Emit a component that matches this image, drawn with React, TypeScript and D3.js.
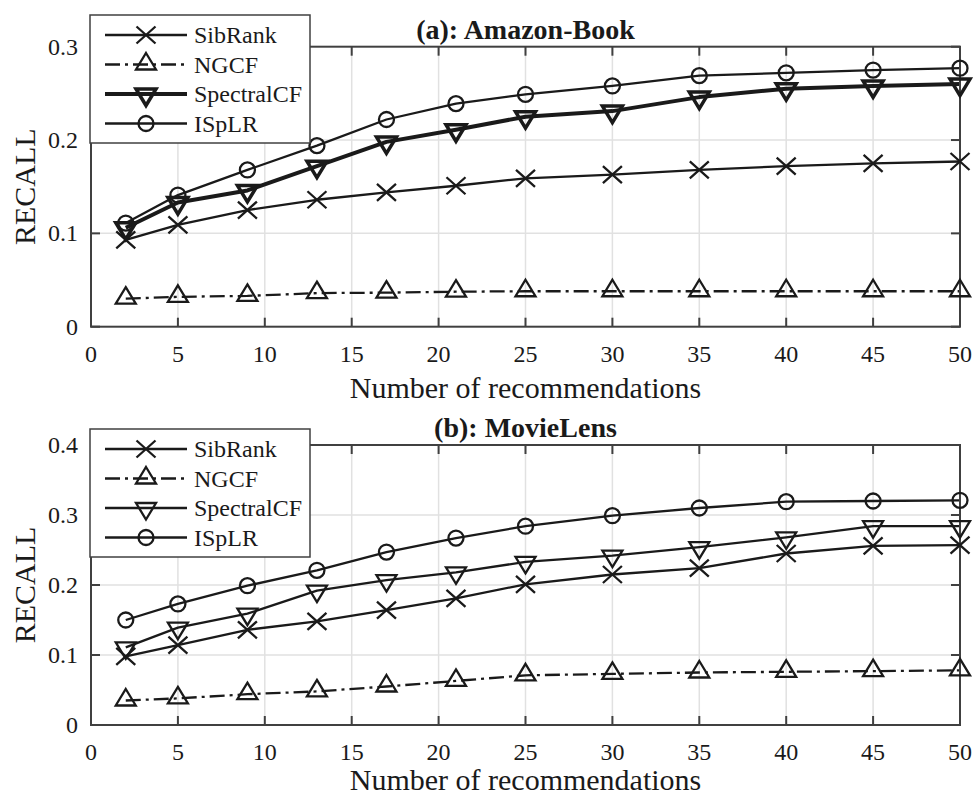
import * as d3 from 'd3';

// number of recommendations (x positions of the points)
const X_VALUES = [2, 5, 9, 13, 17, 21, 25, 30, 35, 40, 45, 50];
const X_TICKS = [0, 5, 10, 15, 20, 25, 30, 35, 40, 45, 50];

// (a) Amazon-Book
const AMAZON_SIBRANK = [0.093, 0.109, 0.125, 0.136, 0.144, 0.151, 0.159, 0.163, 0.168, 0.172, 0.175, 0.177];
const AMAZON_NGCF = [0.03, 0.032, 0.033, 0.036, 0.0365, 0.0375, 0.038, 0.038, 0.038, 0.038, 0.038, 0.038];
const AMAZON_SPECTRAL = [0.106, 0.133, 0.146, 0.172, 0.198, 0.211, 0.225, 0.231, 0.246, 0.255, 0.258, 0.26];
const AMAZON_ISPLR = [0.111, 0.141, 0.168, 0.194, 0.222, 0.239, 0.249, 0.258, 0.269, 0.272, 0.275, 0.277];
const AMAZON_Y_TICKS = [0, 0.1, 0.2, 0.3];

// (b) MovieLens
const MOVIE_SIBRANK = [0.098, 0.114, 0.136, 0.148, 0.164, 0.181, 0.201, 0.215, 0.224, 0.245, 0.256, 0.257];
const MOVIE_NGCF = [0.035, 0.038, 0.044, 0.048, 0.055, 0.063, 0.071, 0.073, 0.075, 0.076, 0.077, 0.078];
const MOVIE_SPECTRAL = [0.111, 0.139, 0.159, 0.192, 0.207, 0.218, 0.233, 0.242, 0.254, 0.268, 0.284, 0.284];
const MOVIE_ISPLR = [0.15, 0.173, 0.199, 0.221, 0.247, 0.267, 0.284, 0.299, 0.31, 0.319, 0.32, 0.321];
const MOVIE_Y_TICKS = [0, 0.1, 0.2, 0.3, 0.4];

const SERIES_NAMES = ['SibRank', 'NGCF', 'SpectralCF', 'ISpLR'];

const FONT = '"Liberation Serif", "Times New Roman", serif';
const INK = '#1a1a1a';
const AXIS = '#404040';
const GRID = '#e1e1e1';

type Marker = 'cross' | 'up' | 'down' | 'circle';

interface SeriesDef {
  name: string;
  values: number[];
  marker: Marker;
  dash?: string;
  width: number;
  markerWidth: number;
}

function markerPath(m: Marker) {
  // marker outline in local coords, data point at (0,0)
  if (m === 'cross') return 'M-9.5,-8.5L9.5,8.5M-9.5,8.5L9.5,-8.5';
  if (m === 'up') return 'M0,-11.5L10,5L-10,5Z';
  if (m === 'down') return 'M0,11.5L10,-5L-10,-5Z';
  return '';
}

function MarkerShape({ m, x, y, w }: { m: Marker; x: number; y: number; w: number }) {
  if (m === 'circle') {
    return <circle cx={x} cy={y} r={7.5} fill="none" stroke={INK} strokeWidth={w} />;
  }
  return (
    <path
      d={markerPath(m)}
      transform={'translate(' + x + ',' + y + ')'}
      fill="none"
      stroke={INK}
      strokeWidth={w}
      strokeLinejoin="miter"
    />
  );
}

interface PanelProps {
  title: string;
  top: number;
  bottom: number;
  yMax: number;
  yTicks: number[];
  series: SeriesDef[];
  legendTop: number;
  xLabelOffset: number;
}

function Panel({ title, top, bottom, yMax, yTicks, series, legendTop, xLabelOffset }: PanelProps) {
  const left = 91;
  const right = 960;
  const x = d3.scaleLinear().domain([0, 50]).range([left, right]);
  const y = d3.scaleLinear().domain([0, yMax]).range([bottom, top]);
  const tick = 9;

  const line = d3
    .line<number>()
    .x((_, i) => x(X_VALUES[i]))
    .y((d) => y(d));

  const legendLeft = 90;
  const legendW = 220;
  const legendH = 128;
  const rowGap = 29.5;

  return (
    <g>
      {/* grid */}
      {X_TICKS.slice(1, -1).map((t) => (
        <line key={'gx' + t} x1={x(t)} x2={x(t)} y1={top} y2={bottom} stroke={GRID} strokeWidth={1.5} />
      ))}
      {yTicks.slice(1, -1).map((t) => (
        <line key={'gy' + t} x1={left} x2={right} y1={y(t)} y2={y(t)} stroke={GRID} strokeWidth={1.5} />
      ))}

      {/* series */}
      {series.map((s) => (
        <path
          key={s.name}
          d={line(s.values) || ''}
          fill="none"
          stroke={INK}
          strokeWidth={s.width}
          strokeDasharray={s.dash}
          strokeLinejoin="round"
        />
      ))}

      {/* axis box with inward ticks */}
      <rect x={left} y={top} width={right - left} height={bottom - top} fill="none" stroke={AXIS} strokeWidth={2} />
      {X_TICKS.map((t) => (
        <g key={'tx' + t}>
          <line x1={x(t)} x2={x(t)} y1={bottom} y2={bottom - tick} stroke={AXIS} strokeWidth={2} />
          <line x1={x(t)} x2={x(t)} y1={top} y2={top + tick} stroke={AXIS} strokeWidth={2} />
          <text x={x(t)} y={bottom + 35} textAnchor="middle" fontSize={24} fontFamily={FONT} fill={INK}>
            {t}
          </text>
        </g>
      ))}
      {yTicks.map((t) => (
        <g key={'ty' + t}>
          <line x1={left} x2={left + tick} y1={y(t)} y2={y(t)} stroke={AXIS} strokeWidth={2} />
          <line x1={right} x2={right - tick} y1={y(t)} y2={y(t)} stroke={AXIS} strokeWidth={2} />
          <text x={78} y={y(t)} textAnchor="end" dominantBaseline="central" fontSize={24} fontFamily={FONT} fill={INK}>
            {t === 0 ? '0' : d3.format('.1f')(t)}
          </text>
        </g>
      ))}

      {/* markers */}
      {series.map((s) =>
        s.values.map((v, i) => (
          <MarkerShape key={s.name + i} m={s.marker} x={x(X_VALUES[i])} y={y(v)} w={s.markerWidth} />
        ))
      )}

      {/* labels */}
      <text x={(left + right) / 2} y={top - 8} textAnchor="middle" fontSize={28} fontWeight="bold" fontFamily={FONT} fill={INK}>
        {title}
      </text>
      <text x={(left + right) / 2} y={bottom + xLabelOffset} textAnchor="middle" fontSize={30} fontFamily={FONT} fill={INK}>
        Number of recommendations
      </text>
      <text
        transform={'translate(35,' + (top + bottom) / 2 + ') rotate(-90)'}
        textAnchor="middle"
        fontSize={30}
        fontFamily={FONT}
        fill={INK}
      >
        RECALL
      </text>

      {/* legend */}
      <rect x={legendLeft} y={legendTop} width={legendW} height={legendH} fill="#fff" stroke={AXIS} strokeWidth={1.5} />
      {series.map((s, i) => {
        const cy = legendTop + 20 + i * rowGap;
        return (
          <g key={'lg' + s.name}>
            <line x1={105} x2={187} y1={cy} y2={cy} stroke={INK} strokeWidth={s.width} strokeDasharray={s.dash} />
            <MarkerShape m={s.marker} x={146} y={cy} w={s.markerWidth} />
            <text x={194} y={cy} dominantBaseline="central" fontSize={24} fontFamily={FONT} fill={INK}>
              {s.name}
            </text>
          </g>
        );
      })}
    </g>
  );
}

function makeSeries(values: number[][], thickSpectral: boolean): SeriesDef[] {
  const markers: Marker[] = ['cross', 'up', 'down', 'circle'];
  return SERIES_NAMES.map((name, i) => ({
    name,
    values: values[i],
    marker: markers[i],
    dash: i === 1 ? '15,5,3,5' : undefined,
    width: i === 2 && thickSpectral ? 4 : 2.3,
    markerWidth: i === 2 && thickSpectral ? 3.5 : 2.3,
  }));
}

export default function App() {
  const amazon = makeSeries([AMAZON_SIBRANK, AMAZON_NGCF, AMAZON_SPECTRAL, AMAZON_ISPLR], true);
  const movie = makeSeries([MOVIE_SIBRANK, MOVIE_NGCF, MOVIE_SPECTRAL, MOVIE_ISPLR], false);
  return (
    <svg
      width={976}
      height={797}
      style={{ position: 'absolute', left: 0, top: 0, background: '#fff' }}
    >
      <rect width={976} height={797} fill="#fff" />
      <Panel
        title="(a): Amazon-Book"
        top={46.7}
        bottom={326.7}
        yMax={0.3}
        yTicks={AMAZON_Y_TICKS}
        series={amazon}
        legendTop={15}
        xLabelOffset={71}
      />
      <Panel
        title="(b): MovieLens"
        top={445}
        bottom={725}
        yMax={0.4}
        yTicks={MOVIE_Y_TICKS}
        series={movie}
        legendTop={429}
        xLabelOffset={65}
      />
    </svg>
  );
}
